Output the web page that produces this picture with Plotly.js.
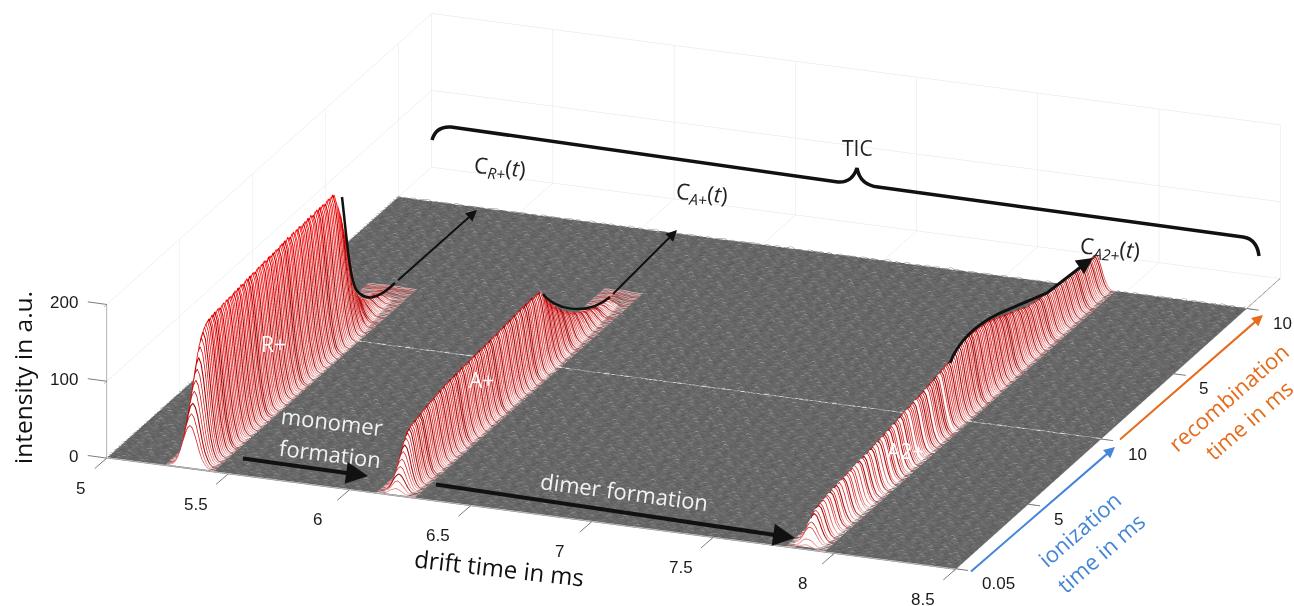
<!DOCTYPE html>
<html><head><meta charset="utf-8">
<script src="https://cdn.plot.ly/plotly-3.0.1.min.js"></script>
<style>html,body{margin:0;padding:0;background:#fff}#plot{width:1294px;height:606px}</style>
</head><body><div id="plot"></div>
<script>
// peak heights per spectrum (0.1 ms steps, 0.05 ... 19.95 ms)
const heightRplus = [
55,68,81,94,107,120,133,146,155,161,
166,169,171,172,171,173,172,174,173,175,
174,173,175,176,174,176,175,177,176,175,
177,178,176,178,177,179,178,177,179,180,
178,180,179,181,180,179,181,182,180,182,
181,183,181,180,182,183,181,183,182,184,
183,182,184,185,183,185,184,186,184,183,
185,186,184,186,185,187,185,184,186,187,
185,187,186,188,186,185,187,188,186,188,
187,188,187,186,188,189,187,188,189,187,
180,172,163,152,141,130,120,108,92,72,
55,47,41,36,32,28,25,22,20,18,
16,15,14,13,12,11,10,9,8,7,
6,5,4.5,4,3.5,3,2.5,2,1.5,1];
const heightAplus = [
8,16,24,32,40,48,55,62,67,71,
72,73,74,75,75,76,77,77,78,79,
79,80,80,81,81,82,82,83,83,84,
84,84,85,85,86,86,86,87,87,87,
87,88,87,88,88,89,88,89,89,88,
89,90,89,90,90,91,90,91,91,90,
91,91,92,91,92,92,93,92,93,93,
92,93,94,93,94,94,95,94,95,95,
95,96,95,96,97,96,97,97,96,97,
97,96,97,98,97,96,97,97,96,96,
92,88,84,80,76,72,69,66,63,60,
57,54,52,49,47,44,42,40,38,36,
34,32,30,28,27,25,24,22,21,20,
18,17,16,15,14,13,12,11,10,9,
9,8,8,7,7,6,6,5,5,4,
4,3,3,2,2,1,1];
const heightA2plus = [
5,11,17,23,28,32,35,38,40,41,
42,42,43,43,44,44,45,45,46,46,
46,47,47,47,48,48,48,48,49,49,
49,49,50,50,50,51,51,51,52,52,
52,52,53,53,53,54,54,54,55,55,
55,56,56,57,57,58,58,58,59,59,
60,60,60,61,61,62,62,63,63,63,
64,64,64,65,65,66,66,66,67,67,
67,68,68,69,69,70,70,71,71,72,
72,72,73,73,74,74,75,75,76,76,
78,80,82,84,85,86,87,87,88,88,
88,88,88,88,87,87,87,86,86,86,
86,85,85,85,84,84,83,82,81,80,
79,78,77,76,75,74,73,72,71,70,
69,68,67,66,65,64,63,62,61,60,
59,58,57,56,56,55,55,54,54,53,
53,53,52,52,52,52,51,51,51,51,
51,51,50,50,50,50,50,50,49,49,
49,49,49,48,48,48,48,47,47,47,
47,46,46,46,46,45,45,45,45,45];
// half profile of each peak, one value per 0.01 ms away from its apex
const profileRplus  = [1,.94,.79,.59,.39,.23,.12,.05,.02,.01,.003];
const profileAplus  = [1,.91,.70,.44,.23,.10,.04,.012,.003];
const profileA2plus = [1,.92,.72,.47,.26,.12,.05,.015,.004];
const apexIndex = [34,119,288];
// spectra that print darker (the bands across the ridges) and A2+ spectra that print white
const darkBand = [0,0,1,0,0,0,1,0,0,1,0,0,0,1,0,0,1,1,0,0,0,1,0,0];
const paleA2plusSpectra = [2,5,8,11,13,16,19,22,24,27,30,33,35,38,41,44,47,49,52,56,60,64,69,75,82,91];
const transitionSpectrum = 99;
// baseline ripple of the detector, in a.u.
const rippleA = [1.2,0.4,2.1,0.7,1.6,0.3,1.0,2.6,0.5,1.4,0.9,1.9,0.2,1.1,0.6,2.3,0.8,1.5,0.4,1.2,3.0,0.7,1.0,0.3,1.7,0.9,0.5,2.0,1.3,0.6,0.8,1.8,0.4,1.1,2.4,0.6,1.0,0.3,1.5,0.7,2.2,0.9,0.5,1.3,0.8,1.6,0.2,1.2,2.7,0.6,1.0,0.4,1.9,0.8,1.4,0.5,1.1,0.3,2.0,0.7,1.3];
const rippleB = [0.3,0.8,0.1,0.6,0.4,1.2,0.2,0.7,0.5,0.1,0.9,0.3,0.6,1.5,0.2,0.4,0.8,0.1,0.5,0.3,1.0,0.6,0.2,0.7,0.4,0.1,1.3,0.5,0.3,0.8,0.2,0.6,0.4,0.9,0.1,0.7,0.3,1.1,0.5,0.2,0.6,0.8,0.3,0.1,0.4,1.4,0.7,0.2,0.5,0.3,0.9,0.6,0.2];
const xTicks = [5,5.5,6,6.5,7,7.5,8,8.5];
const xTickText = ['5','5.5','6','6.5','7','7.5','8','8.5'];
const yTicks = [0.05,5,10,15,20];
const yTickText = ['0.05','5','10','5','10'];
const zTicks = [0,100,200];
const zTickText = ['0','100','200'];
const yLimit = 22.3, nSpectra = 200, nDrift = 351;

const heights=[heightRplus,heightAplus,heightA2plus], profiles=[profileRplus,profileAplus,profileA2plus];
const driftAt = j => 5 + j*0.01, timeAt = i => 0.05 + i*0.1;

const bag=()=>({x:[],y:[],z:[]});
const noise=bag(), light=bag(), dark=bag(), white=bag();
const mx=[],my=[],mz=[],mi=[],mj=[],mk=[];
const put=(b,x,y,z)=>{b.x.push(x);b.y.push(y);b.z.push(z);};
for(let i=0;i<nSpectra;i++){
  const t=timeAt(i);
  const base=new Float32Array(nDrift), peak=new Float32Array(nDrift), inPeak=new Uint8Array(nDrift);
  for(let j=0;j<nDrift;j++) base[j]=rippleA[((j>>1)+i*17)%rippleA.length]+rippleB[(j+i*29)%rippleB.length];
  heights.forEach((h,p)=>{
    const a=h[i]||0, prof=profiles[p], c=apexIndex[p], w=prof.length-1;
    if(a<=0) return;
    for(let d=-w;d<=w;d++){peak[c+d]=a*prof[Math.abs(d)];inPeak[c+d]=1;}
    const target=(p===2&&paleA2plusSpectra.includes(i))?white:(darkBand[i%darkBand.length]?dark:light);
    for(let d=-w;d<=w;d++) put(target,driftAt(c+d),t,base[c+d]*0.4+peak[c+d]);
    put(target,null,null,null);
    if(a>=6){
      const first=mx.length;
      for(let n=0;n<=2*w;n++){
        const j=c-w+n, xx=driftAt(j), yy=t+0.03;
        mx.push(xx,xx);my.push(yy,yy);mz.push(0.3,base[j]*0.4+peak[j]);
        if(n>0){const v=first+2*n;mi.push(v-2,v-1);mj.push(v-1,v+1);mk.push(v,v);}
      }
    }
  });
  for(let j=0;j<nDrift;j++){
    if(inPeak[j]) put(noise,null,null,null); else put(noise,driftAt(j),t,base[j]);
    if(i===transitionSpectrum) put(white,driftAt(j),t+0.02,1.2+peak[j]);
  }
  put(noise,null,null,null);
  if(i===transitionSpectrum) put(white,null,null,null);
}
const flat={ambient:1,diffuse:0,specular:0,roughness:1,fresnel:0};
const lineTrace=(b,width,extra)=>({type:'scatter3d',mode:'lines',x:b.x,y:b.y,z:b.z,connectgaps:false,hoverinfo:'skip',line:Object.assign({width},extra)});
const traces=[
 {type:'mesh3d',x:[5,8.5,8.5,5],y:[0.05,0.05,20,20],z:[0.1,0.1,0.1,0.1],i:[0,0],j:[1,2],k:[2,3],color:'rgb(104,104,104)',flatshading:true,lighting:flat,hoverinfo:'skip',showscale:false},
 {type:'mesh3d',x:mx,y:my,z:mz,i:mi,j:mj,k:mk,color:'rgb(255,255,255)',flatshading:true,lighting:flat,hoverinfo:'skip',showscale:false},
 lineTrace(noise,1,{color:noise.z,cmin:0,cmax:5,showscale:false,colorscale:[[0,'rgb(60,60,60)'],[0.3,'rgb(98,98,98)'],[0.6,'rgb(150,150,150)'],[1,'rgb(225,225,225)']]}),
 lineTrace(light,1.6,{color:light.z,cmin:0,cmax:190,showscale:false,colorscale:[[0,'rgb(235,190,190)'],[0.03,'rgb(232,130,130)'],[0.13,'rgb(215,40,40)'],[0.53,'rgb(215,10,10)'],[1,'rgb(255,0,0)']]}),
 lineTrace(dark,2.2,{color:dark.z,cmin:0,cmax:190,showscale:false,colorscale:[[0,'rgb(210,120,120)'],[0.05,'rgb(170,20,20)'],[0.53,'rgb(165,0,0)'],[1,'rgb(225,0,0)']]}),
 lineTrace(white,1.6,{color:'rgb(245,245,245)'}),
 {type:'scatter3d',mode:'lines',x:[5,8.4999,8.4999],y:[0.001,0.001,yLimit],z:[0.15,0.15,0.15],hoverinfo:'skip',line:{width:1,color:'rgb(120,120,120)'}}
];

const gray='rgb(125,125,125)';
const a3=(x,y,z,text,xs,ys,o)=>Object.assign({x,y,z,text,showarrow:false,xshift:xs,yshift:ys,font:{family:'Liberation Sans',size:17,color:'#1a1a1a'}},o||{});
const tick=(x,y,z,ax,ay)=>({x,y,z,text:' ',showarrow:true,ax,ay,arrowhead:0,arrowwidth:1,arrowcolor:gray,standoff:0});
const sceneAnn=[];
xTicks.forEach((v,k)=>{sceneAnn.push(tick(v,0,0,-15,13));sceneAnn.push(a3(v,0,0,xTickText[k],k===0?-26:-32,-30));});
yTicks.forEach((v,k)=>{sceneAnn.push(tick(8.5,v,0,15,2));sceneAnn.push(a3(8.5,v,0,yTickText[k],k===0?42:(k%2?30:36),-15));});
zTicks.forEach((v,k)=>{sceneAnn.push(tick(5,0,v,-22,-3));sceneAnn.push(a3(5,0,v,zTickText[k],-27,2,{xanchor:'right'}));});

const grid={showgrid:true,gridcolor:'rgb(228,228,228)',gridwidth:1,showline:true,linecolor:gray,linewidth:1,ticks:'outside',ticklen:8,tickcolor:gray,showticklabels:false,showspikes:false,zeroline:false,showbackground:false,title:{text:''},tickmode:'array'};
const W=1294,H=606, px=v=>v/W, py=v=>1-v/H;
const txt=(x,y,text,size,color,angle,family)=>({xref:'paper',yref:'paper',x:px(x),y:py(y),text,showarrow:false,textangle:angle||0,xanchor:'center',yanchor:'middle',font:{family:family||'Open Sans',size,color}});
const arrow=(x0,y0,x1,y1,color,width,head)=>({xref:'paper',yref:'paper',x:px(x1),y:py(y1),ax:x0-x1,ay:y0-y1,axref:'pixel',ayref:'pixel',showarrow:true,text:' ',arrowhead:head||2,arrowsize:1.1,arrowwidth:width,arrowcolor:color,standoff:0});
const blue='rgb(68,133,214)',orange='rgb(230,108,28)';
const annotations=[
 txt(22,378,'intensity in a.u.',24.5,'#111',-90),
 txt(499,567,'drift time in ms',24,'#111',6.5),
 txt(273,344,'R+',21,'#fff'),
 txt(481,380,'A+',21,'#fff'),
 txt(905,451,'A2+',21,'#fff'),
 txt(332,421,'monomer',22,'#f2f2f2',7),
 txt(330,453,'formation',22,'#f2f2f2',7),
 txt(624,491,'dimer formation',22,'#f2f2f2',7.5),
 txt(1079,529,'ionization',22,blue,-41),
 txt(1100,553,'time in ms',22,blue,-41),
 txt(1228,397,'recombination',22,orange,-41),
 txt(1248,420,'time in ms',22,orange,-41),
 txt(857,148,'TIC',21,'#222'),
 txt(500,168,'C<sub><i>R+</i></sub>(<i>t</i>)',22,'#222',5),
 txt(702,194,'C<sub><i>A+</i></sub>(<i>t</i>)',22,'#222',5),
 txt(1110,249,'C<sub><i>A2+</i></sub>(<i>t</i>)',22,'#222',5),
 arrow(968,574,1115,447,blue,2,2),
 arrow(1117,442,1263,315,orange,2,2),
 arrow(395,283,477,210,'#111',2,2),
 arrow(610,297,677,230,'#111',2,2),
 arrow(1080,267,1093,258,'#111',3,2),
 arrow(240,458,368,476,'#111',4,2),
 arrow(433,484,795,538,'#111',4,2)
];
const curve=(d,w)=>({type:'path',xref:'paper',yref:'paper',path:d,line:{color:'#111',width:w},layer:'above'});
const X=v=>px(v),Y=v=>py(v);
const brace='M'+X(432)+','+Y(140)+' Q'+X(436)+','+Y(126)+' '+X(451)+','+Y(127)+' L'+X(838)+','+Y(182)+' Q'+X(852)+','+Y(183)+' '+X(857)+','+Y(168)+' Q'+X(860)+','+Y(185)+' '+X(878)+','+Y(187)+' L'+X(1243)+','+Y(237)+' Q'+X(1257)+','+Y(239)+' '+X(1259)+','+Y(256);
const shapes=[
 curve(brace,3.5),
 curve('M'+X(342)+','+Y(197)+' C'+X(347)+','+Y(240)+' '+X(350)+','+Y(285)+' '+X(358)+','+Y(292)+' C'+X(366)+','+Y(300)+' '+X(376)+','+Y(301)+' '+X(395)+','+Y(283),2.5),
 curve('M'+X(543)+','+Y(294)+' C'+X(553)+','+Y(308)+' '+X(585)+','+Y(318)+' '+X(610)+','+Y(297),2.5),
 curve('M'+X(950)+','+Y(363)+' C'+X(958)+','+Y(342)+' '+X(975)+','+Y(325)+' '+X(1000)+','+Y(313)+' L'+X(1047)+','+Y(293)+' L'+X(1082)+','+Y(266),3)
];
const eye=6, zoom=3.117;
const layout={width:W,height:H,margin:{l:0,r:0,t:0,b:0},paper_bgcolor:'#fff',showlegend:false,shapes,annotations,
 scene:{domain:{x:[93/W,1],y:[23/H,1]},aspectmode:'manual',aspectratio:{x:zoom,y:zoom,z:0.18*zoom},dragmode:false,
  camera:{projection:{type:'orthographic'},up:{x:0,y:0,z:1},center:{x:0,y:0,z:0},eye:{x:0.335*eye,y:-0.875*eye,z:0.342*eye}},
  xaxis:Object.assign({},grid,{range:[5,8.5],tickvals:xTicks}),
  yaxis:Object.assign({},grid,{range:[0,yLimit],tickvals:yTicks}),
  zaxis:Object.assign({},grid,{range:[0,200],tickvals:zTicks}),
  annotations:sceneAnn}};
Plotly.newPlot('plot',traces,layout,{displayModeBar:false,responsive:false});
</script></body></html>
